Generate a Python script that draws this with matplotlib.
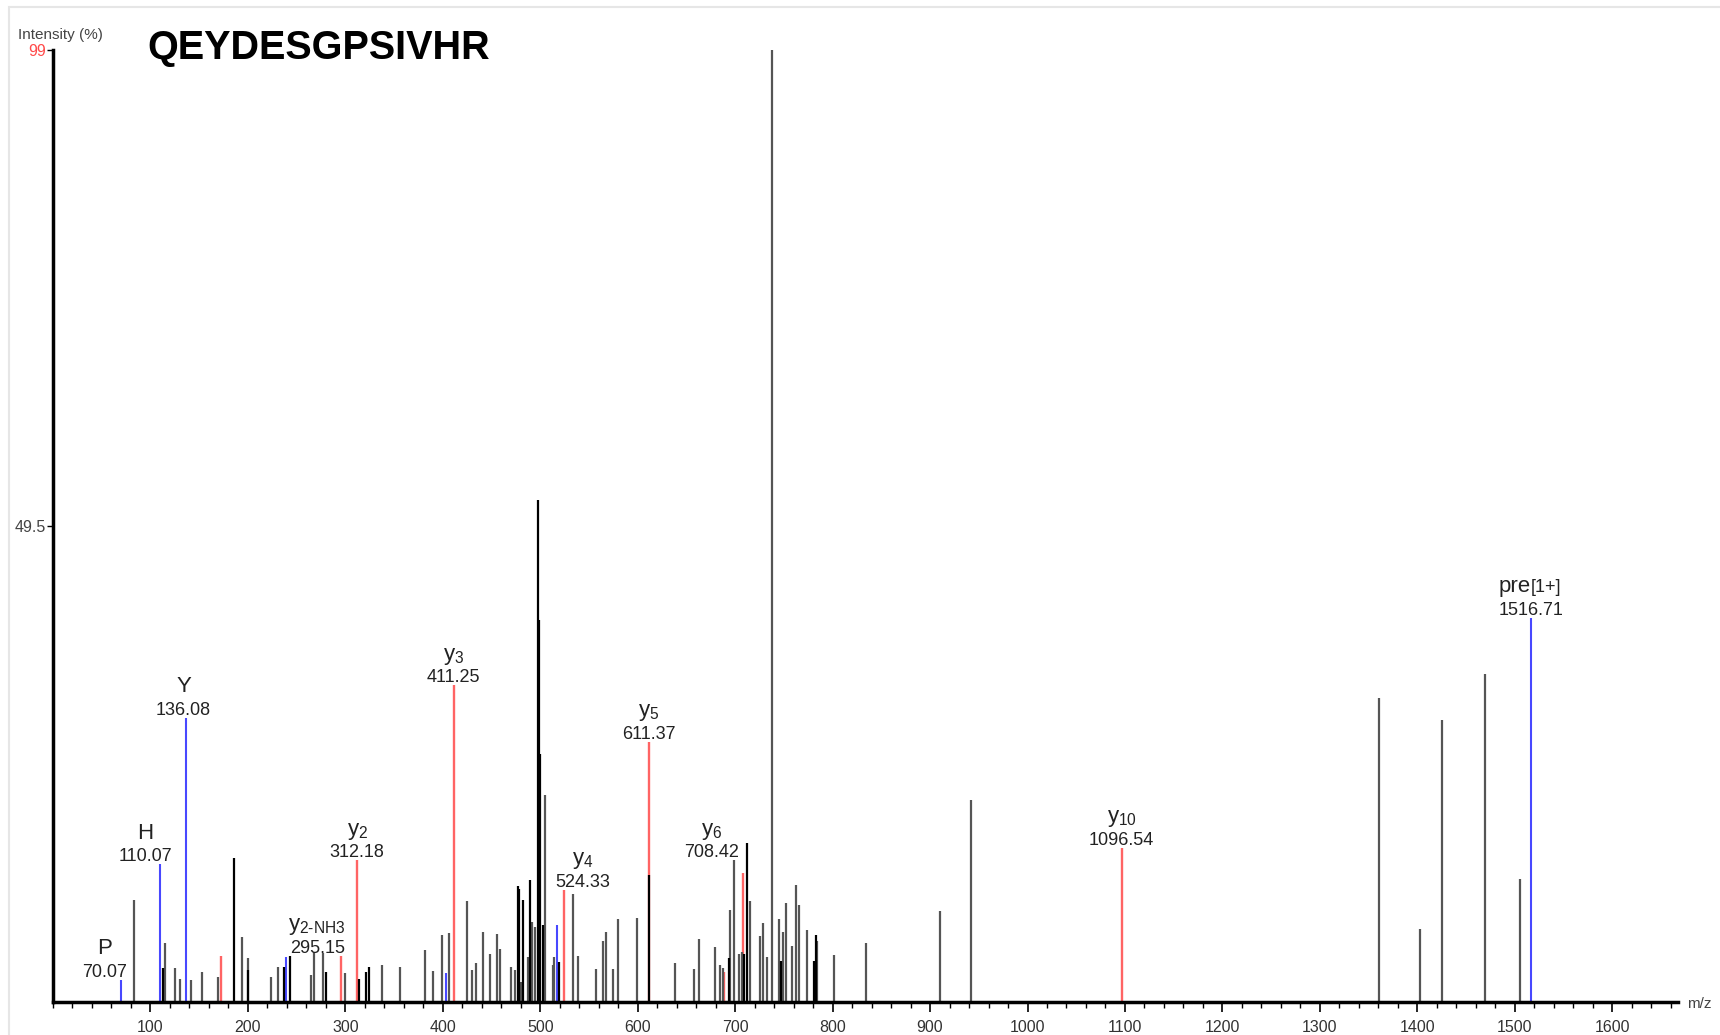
import numpy as np
import matplotlib.pyplot as plt
from matplotlib.ticker import MultipleLocator
from matplotlib.patches import Rectangle

plt.rcParams['font.family'] = ['Liberation Sans', 'DejaVu Sans']
plt.rcParams['mathtext.fontset'] = 'custom'
plt.rcParams['mathtext.rm'] = 'Liberation Sans'
plt.rcParams['mathtext.it'] = 'Liberation Sans:italic'

peptide = 'QEYDESGPSIVHR'

# unassigned peaks (grey)
gray_mz = [82.8, 114.6, 125.6, 130.7, 141.7, 153.0, 169.7, 194.0, 199.8, 223.3,
           230.6, 264.8, 267.5, 277.4, 299.8, 337.7, 356.5, 381.8, 390.0, 398.9,
           406.1, 425.1, 429.8, 434.5, 441.0, 448.9, 455.6, 458.5, 470.4, 474.1,
           480.3, 487.2, 492.0, 495.0, 505.0, 512.8, 514.6, 533.8, 539.2, 556.9,
           564.2, 567.7, 574.5, 579.3, 599.4, 638.4, 658.2, 662.7, 679.8, 684.6,
           687.4, 694.8, 699.0, 704.4, 706.8, 715.4, 726.0, 729.0, 732.9, 738.2,
           745.5, 748.9, 751.7, 758.6, 762.6, 765.3, 773.9, 784.2, 801.9, 833.8,
           909.7, 942.3, 1360.5, 1403.0, 1425.6, 1469.0, 1505.3]
gray_int = [10.6, 6.1, 3.5, 2.4, 2.3, 3.1, 2.6, 6.7, 4.5, 2.6,
            3.6, 2.8, 5.2, 5.1, 3.0, 3.8, 3.6, 5.4, 3.2, 6.9,
            7.1, 10.5, 3.3, 4.0, 7.3, 5.0, 7.0, 5.5, 3.6, 3.3,
            2.0, 4.7, 8.3, 7.8, 21.5, 3.8, 4.6, 11.2, 4.8, 3.4,
            6.3, 7.3, 3.4, 8.6, 8.7, 4.0, 3.4, 6.5, 5.7, 3.8,
            3.5, 9.5, 14.7, 5.0, 5.2, 10.5, 6.8, 8.2, 4.7, 99.0,
            8.6, 7.3, 10.3, 5.8, 12.1, 10.1, 7.5, 6.3, 4.9, 6.1,
            9.4, 21.0, 31.6, 7.6, 29.3, 34.1, 12.8]

# unassigned peaks (black)
black_mz = [112.6, 185.5, 200.3, 237.2, 243.6, 279.9, 314.4, 321.3, 324.0, 476.9,
            477.9, 482.4, 489.2, 497.4, 498.5, 499.9, 503.0, 519.0, 611.4, 693.4,
            709.2, 712.0, 747.2, 780.8, 782.9]
black_int = [3.5, 15.0, 3.3, 3.6, 4.8, 3.1, 2.4, 3.1, 3.6, 12.0,
             11.7, 10.6, 12.7, 52.2, 39.7, 25.8, 8.0, 4.1, 13.2, 4.5,
             5.0, 16.5, 4.2, 4.2, 6.9]

# y ions (red) and immonium / precursor (blue)
red_mz = [172.8, 295.15, 312.18, 411.25, 524.33, 611.37, 688.8, 708.42, 1096.54]
red_int = [4.75, 4.8, 14.7, 32.9, 11.6, 27.0, 3.1, 13.4, 16.0]
blue_mz = [70.07, 110.07, 136.08, 239.5, 403.7, 517.0, 1516.71]
blue_int = [2.3, 14.3, 29.5, 4.6, 3.0, 8.0, 39.9]

# annotations
ion_mz = [70.07, 110.07, 136.08, 295.15, 312.18, 411.25, 524.33, 611.37, 708.42, 1096.54, 1516.71]
ion_int = [2.3, 14.3, 29.5, 4.8, 14.7, 32.9, 11.6, 27.0, 13.4, 16.0, 39.9]
ion_name = ['P', 'H', 'Y', 'y', 'y', 'y', 'y', 'y', 'y', 'y', 'pre']
ion_sub = ['', '', '', '2-NH3', '2', '3', '4', '5', '6', '10', '[1+]']
ion_text = ['70.07', '110.07', '136.08', '295.15', '312.18', '411.25', '524.33',
            '611.37', '708.42', '1096.54', '1516.71']

# label shifts (m/z, points) so labels don't collide
shift = {'70.07': (-17, 0), '110.07': (-15, 0), '136.08': (-2, 0),
         '295.15': (-24, 0), '524.33': (19, 0), '708.42': (-33, 9)}

fig = plt.figure(figsize=(17.2, 10.35), dpi=100)
fig.patches.append(Rectangle((0.005, -0.1), 1.2, 1.093, transform=fig.transFigure,
                             fill=False, edgecolor='#e6e6e6', lw=1.5))
ax = fig.add_axes([53 / 1720, 1 - 1001.7 / 1035, 1625 / 1720, 951.7 / 1035])

ax.vlines(red_mz, 0, red_int, colors='#ff6464', lw=1.7)
ax.vlines(blue_mz, 0, blue_int, colors='#4848ff', lw=1.5)
ax.vlines(gray_mz, 0, gray_int, colors='#555555', lw=1.6)
ax.vlines(black_mz, 0, black_int, colors='#000000', lw=1.6)

for mz, h, name, sub, txt in zip(ion_mz, ion_int, ion_name, ion_sub, ion_text):
    dx, dy = shift.get(txt, (0, 0))
    x = mz + dx
    ax.annotate(txt, (x, h), xytext=(0, 2.2 + dy), textcoords='offset points',
                ha='center', va='baseline', fontsize=13, color='#222222')
    if name == 'pre':
        ax.annotate(name, (x, h), xytext=(0, 18.5 + dy), textcoords='offset points',
                    ha='right', va='baseline', fontsize=16, color='#222222')
        ax.annotate(sub, (x, h), xytext=(0, 18.5 + dy), textcoords='offset points',
                    ha='left', va='baseline', fontsize=13, color='#222222')
    else:
        label = name if not sub else r'$\mathregular{%s_{\text{%s}}}$' % (name, sub)
        ax.annotate(label, (x, h), xytext=(0, 18.5 + dy), textcoords='offset points',
                    ha='center', va='baseline', fontsize=16, color='#222222')

ax.set_xlim(0, 1667.5)
ax.set_ylim(0, 99)
ax.spines['right'].set_visible(False)
ax.spines['top'].set_visible(False)
ax.spines['left'].set_linewidth(2.5)
ax.spines['bottom'].set_linewidth(2.5)

ax.set_xticks(np.arange(100, 1700, 100))
ax.xaxis.set_minor_locator(MultipleLocator(20))
ax.tick_params(axis='x', which='major', length=7, width=1.2, pad=6,
               labelsize=11.5, labelcolor='#333333')
ax.tick_params(axis='x', which='minor', length=4, width=1)

ax.set_yticks([49.5, 99])
ax.set_yticklabels(['49.5', '99'])
ax.tick_params(axis='y', length=4, width=1, pad=1, labelsize=11.5, labelcolor='#444444')
ax.get_yticklabels()[1].set_color('#ff4a4a')

fig.text(18 / 1720, 1 - 35 / 1035, 'Intensity (%)', fontsize=11, color='#444444', va='center')
fig.text(147 / 1720, 1 - 48 / 1035, peptide, fontsize=28.5, fontweight='bold', va='center')
fig.text(1687 / 1720, 1 - 1004 / 1035, 'm/z', fontsize=11, color='#444444', va='center')

fig.savefig('out.png', dpi=100)
